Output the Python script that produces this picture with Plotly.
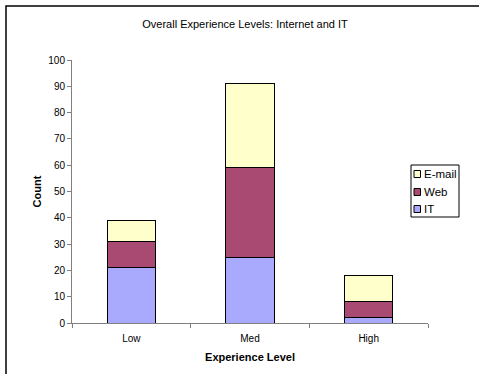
import plotly.graph_objects as go

# Experience levels and counts per category (stacked)
levels = ["Low", "Med", "High"]
it_counts = [21, 25, 2]
web_counts = [10, 34, 6]
email_counts = [8, 32, 10]

series = [
    ("IT", it_counts, "#A9AAFD"),
    ("Web", web_counts, "#A84A72"),
    ("E-mail", email_counts, "#FFFFCC"),
]

W, H = 479, 374
L, R, T, B = 72, 51, 60, 51  # plot area margins in px
pw, ph = W - L - R, H - T - B


def px_x(x):
    return (x - L) / pw


def px_y(y):
    return (H - B - y) / ph


fig = go.Figure()
for name, vals, color in series:
    fig.add_trace(go.Bar(
        x=levels, y=vals, name=name,
        marker=dict(color=color, line=dict(color="#000000", width=1)),
        showlegend=False,
    ))

font = "Liberation Sans, Arial, sans-serif"

fig.update_layout(
    width=W, height=H,
    margin=dict(l=L, r=R, t=T, b=B),
    barmode="stack",
    bargap=0.595,
    paper_bgcolor="white",
    plot_bgcolor="white",
    font=dict(family=font, size=10, color="#000000"),
    title=dict(
        text="Overall Experience Levels: Internet and IT",
        x=px_x(245), xref="paper", xanchor="center",
        y=1 - 24 / H, yref="container", yanchor="middle",
        font=dict(size=11, family=font),
    ),
    xaxis=dict(
        range=[-0.5, 2.5],
        showline=True, linecolor="#808080", linewidth=1,
        ticks="outside", tickson="boundaries", ticklen=4,
        tickcolor="#808080", ticklabelstandoff=6,
        showgrid=False, zeroline=False,
        tickfont=dict(size=10),
        title=dict(text="<b>Experience Level</b>", font=dict(size=11), standoff=10),
    ),
    yaxis=dict(
        range=[0, 100], dtick=10,
        showline=True, linecolor="#808080", linewidth=1,
        ticks="outside", ticklen=4, tickcolor="#808080",
        showgrid=False, zeroline=False,
        tickfont=dict(size=10),
        title=dict(text="<b>Count</b>", font=dict(size=11), standoff=4),
    ),
)

# Chart frame
fig.add_shape(type="rect", xref="paper", yref="paper",
              x0=px_x(6), y0=px_y(390), x1=px_x(500), y1=px_y(6),
              line=dict(color="#000000", width=1.5), fillcolor="rgba(0,0,0,0)",
              layer="below")

# Legend box with swatches
fig.add_shape(type="rect", xref="paper", yref="paper",
              x0=px_x(411), y0=px_y(217), x1=px_x(459), y1=px_y(165),
              line=dict(color="#000000", width=1), fillcolor="white")
legend_rows = [("E-mail", "#FFFFCC", 174), ("Web", "#A84A72", 192), ("IT", "#A9AAFD", 209)]
for name, color, yc in legend_rows:
    fig.add_shape(type="rect", xref="paper", yref="paper",
                  x0=px_x(414), y0=px_y(yc + 3.5), x1=px_x(420.5), y1=px_y(yc - 3.5),
                  line=dict(color="#000000", width=1), fillcolor=color)
    fig.add_annotation(xref="paper", yref="paper", x=px_x(422), y=px_y(yc),
                       text=name, showarrow=False, xanchor="left", yanchor="middle",
                       font=dict(size=11.5, family=font))

fig.write_html("out.html")
